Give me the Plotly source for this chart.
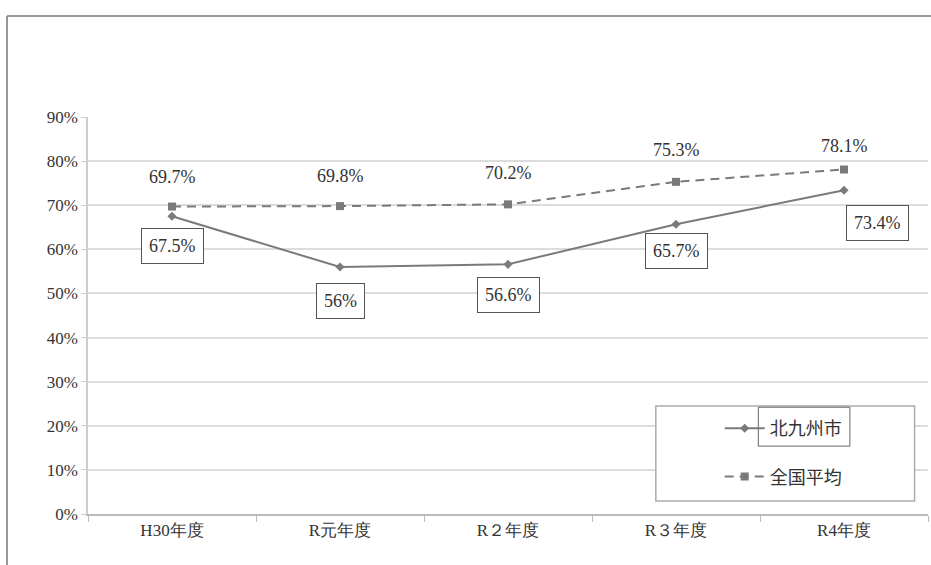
import plotly.graph_objects as go

categories = ["H30年度", "R元年度", "R２年度", "R３年度", "R4年度"]
kitakyushu = [67.5, 56.0, 56.6, 65.7, 73.4]
kitakyushu_labels = ["67.5%", "56%", "56.6%", "65.7%", "73.4%"]
national = [69.7, 69.8, 70.2, 75.3, 78.1]
national_labels = ["69.7%", "69.8%", "70.2%", "75.3%", "78.1%"]
y_ticks = [0, 10, 20, 30, 40, 50, 60, 70, 80, 90]

SERIF = "Liberation Serif"
TXT = "#333333"
LINE = "#7a7a7a"

fig = go.Figure()
fig.add_trace(go.Scatter(
    x=categories, y=kitakyushu, name="北九州市", mode="lines+markers", legendgroup="a",
    line=dict(color=LINE, width=2), marker=dict(symbol="diamond", size=7, color=LINE)))
fig.add_trace(go.Scatter(
    x=categories, y=national, name="全国平均", mode="lines+markers", legendgroup="b",
    line=dict(color=LINE, width=2, dash="9px,6px"), marker=dict(symbol="square", size=8, color=LINE)))

k_shift = [(0, -30), (0, -34), (0, -31), (0, -27), (33, -33)]
for c, v, t, (dx, dy) in zip(categories, kitakyushu, kitakyushu_labels, k_shift):
    fig.add_annotation(x=c, y=v, text=t, showarrow=False, xshift=dx, yshift=dy,
                       font=dict(family=SERIF, size=18, color=TXT),
                       bordercolor="#555", borderwidth=1, borderpad=7, bgcolor="white")
n_shift = [30, 30, 31, 32, 23]
for c, v, t, dy in zip(categories, national, national_labels, n_shift):
    fig.add_annotation(x=c, y=v, text=t, showarrow=False, yshift=dy,
                       font=dict(family=SERIF, size=18, color=TXT))

# outer chart frame (left and top edges)
fig.add_shape(type="line", xref="paper", yref="paper", x0=-0.0964, x1=-0.0964, y0=-0.2, y1=1.2544,
              line=dict(color="#777", width=1.5))
fig.add_shape(type="line", xref="paper", yref="paper", x0=-0.0964, x1=1.1, y0=1.2544, y1=1.2544,
              line=dict(color="#777", width=1.5))
# legend box
fig.add_shape(type="rect", xref="paper", yref="paper", x0=0.676, x1=0.984, y0=0.033, y1=0.272,
              line=dict(color="#aaa", width=1.5), fillcolor="white", layer="above")
# selection box around first legend label
fig.add_shape(type="rect", xref="paper", yref="paper", x0=0.798, x1=0.907, y0=0.171, y1=0.269,
              line=dict(color="#666", width=1), fillcolor="rgba(0,0,0,0)", layer="above")

fig.update_layout(
    width=931, height=565,
    margin=dict(l=88, r=3, t=117, b=51),
    paper_bgcolor="white", plot_bgcolor="white",
    showlegend=True,
    legend=dict(x=0.752, y=0.262, xanchor="left", yanchor="top",
                bgcolor="rgba(0,0,0,0)", borderwidth=0, traceorder="grouped",
                font=dict(family="Noto Sans CJK JP", size=18, color=TXT),
                tracegroupgap=22, itemwidth=40),
    xaxis=dict(type="category", range=[-0.5, 4.5], showgrid=False,
               showline=True, linecolor="#bbb", linewidth=1.5,
               ticks="outside", tickson="boundaries", ticklen=6, tickcolor="#bbb",
               tickfont=dict(family=SERIF, size=17, color=TXT)),
    yaxis=dict(range=[0, 90], tickvals=y_ticks, ticktext=[f"{v}%" for v in y_ticks],
               showgrid=True, gridcolor="#dcdcdc", gridwidth=1.5,
               showline=True, linecolor="#ccc", linewidth=1.5,
               ticks="outside", ticklen=5, tickcolor="#ccc", zeroline=False,
               tickfont=dict(family=SERIF, size=17, color=TXT)),
)

fig.write_html("out.html")
